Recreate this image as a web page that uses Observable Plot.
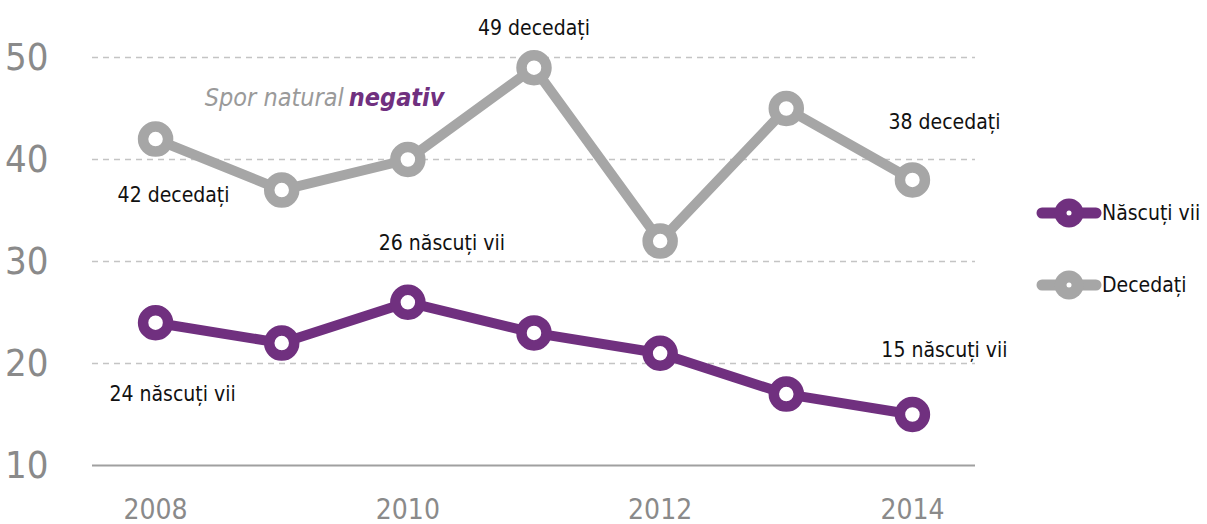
<!DOCTYPE html>
<html>
<head>
<meta charset="utf-8">
<script src="https://cdn.jsdelivr.net/npm/d3@7"></script>
<script src="https://cdn.jsdelivr.net/npm/@observablehq/plot@0.6"></script>
<style>
  html, body { margin: 0; padding: 0; background: #fff; }
  #wrap { position: relative; width: 1207px; height: 524px; font-family: "DejaVu Sans Condensed", "DejaVu Sans", sans-serif; font-stretch: condensed; }
  #wrap svg text { font-stretch: condensed; }
  #legend { position: absolute; left: 1034px; top: 195px; }
  .item { display: flex; align-items: center; height: 36px; margin-bottom: 36px; font-size: 21px; color: #111; white-space: nowrap; }
</style>
</head>
<body>
<div id="wrap"><div id="chart"></div><div id="legend"></div></div>
<script>
const years = [2008, 2009, 2010, 2011, 2012, 2013, 2014];
const nascuti = [24, 22, 26, 23, 21, 17, 15];
const decedati = [42, 37, 40, 49, 32, 45, 38];
const seriesNames = ["Născuți vii", "Decedați"];
const seriesColors = ["#70307f", "#a6a6a6"];
const yTicks = [10, 20, 30, 40, 50];
const xTicks = [2008, 2010, 2012, 2014];

const rows = [];
years.forEach((y, i) => {
  rows.push({year: y, value: nascuti[i], series: seriesNames[0]});
  rows.push({year: y, value: decedati[i], series: seriesNames[1]});
});

const annotations = [
  {year: 2011, value: 49, text: "49 decedați", dx: 0, dy: -39},
  {year: 2008, value: 42, text: "42 decedați", dx: 18, dy: 56},
  {year: 2014, value: 38, text: "38 decedați", dx: 32, dy: -58},
  {year: 2010, value: 26, text: "26 născuți vii", dx: 34, dy: -59},
  {year: 2008, value: 24, text: "24 născuți vii", dx: 17, dy: 72},
  {year: 2014, value: 15, text: "15 născuți vii", dx: 32, dy: -64}
];

const sporAnchor = [{year: 2008.39, value: 46}];

const font = '"DejaVu Sans Condensed", "DejaVu Sans", sans-serif';

const chart = Plot.plot({
  width: 1207,
  height: 524,
  marginLeft: 92,
  marginRight: 232,
  marginTop: 57,
  marginBottom: 59,
  style: {fontFamily: font, background: "#fff", overflow: "visible"},
  x: {domain: [2007.5, 2014.5], ticks: xTicks, tickFormat: d => String(d), tickSize: 0, tickPadding: 34, label: null},
  y: {domain: [10, 50], ticks: yTicks, tickSize: 0, tickPadding: 44, label: null},
  color: {domain: seriesNames, range: seriesColors},
  marks: [
    Plot.ruleY(yTicks.filter(t => t !== 10), {stroke: "#c4c4c4", strokeWidth: 1.5, strokeDasharray: "6,5"}),
    Plot.ruleY([10], {stroke: "#a0a0a0", strokeWidth: 2}),
    Plot.axisY({ticks: yTicks, tickSize: 0, tickPadding: 44, fontSize: 38, fill: "#8a8a8a", label: null}),
    Plot.axisX({ticks: xTicks, tickFormat: d => String(d), tickSize: 0, tickPadding: 34, fontSize: 28, fill: "#8a8a8a", label: null}),
    Plot.line(rows, {x: "year", y: "value", z: "series", stroke: "series", strokeWidth: 10, strokeLinejoin: "round"}),
    Plot.dot(rows, {x: "year", y: "value", r: 12.5, fill: "white", stroke: "series", strokeWidth: 10.5}),
    ...annotations.map(a => Plot.text([a], {x: "year", y: "value", text: "text", dx: a.dx, dy: a.dy, fontSize: 21, fill: "#111"})),
    Plot.text(sporAnchor, {x: "year", y: "value", text: () => "Spor natural", textAnchor: "start", fontSize: 25, fontStyle: "italic", fill: "#9a9a9a"}),
    Plot.text(sporAnchor, {x: "year", y: "value", text: () => "negativ", textAnchor: "start", dx: 144, fontSize: 25, fontStyle: "italic", fontWeight: "bold", fill: seriesColors[0]})
  ]
});
document.getElementById("chart").appendChild(chart);

const legend = document.getElementById("legend");
seriesNames.forEach((name, i) => {
  const item = document.createElement("div");
  item.className = "item";
  const c = seriesColors[i];
  item.innerHTML = `<svg width="68" height="36" viewBox="0 0 68 36"><line x1="8" y1="18" x2="62" y2="18" stroke="${c}" stroke-width="11" stroke-linecap="round"/><circle cx="35" cy="18" r="14.5" fill="${c}"/><circle cx="35" cy="18" r="2.5" fill="white"/></svg><span>${name}</span>`;
  legend.appendChild(item);
});
</script>
</body>
</html>
